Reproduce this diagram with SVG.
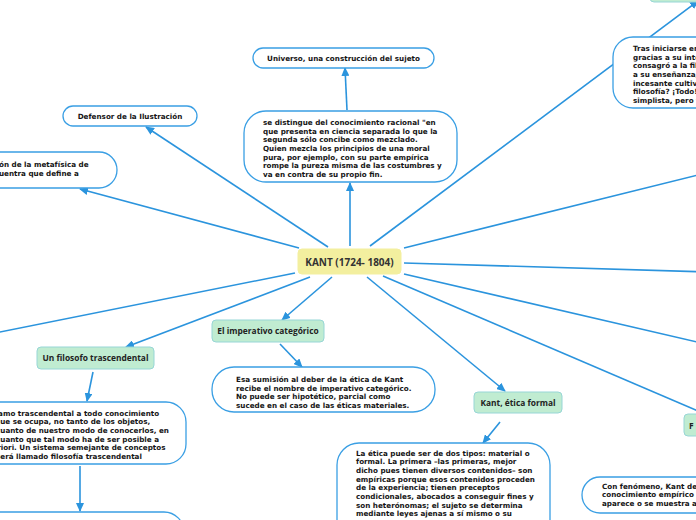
<svg xmlns="http://www.w3.org/2000/svg" width="696" height="520" viewBox="0 0 696 520">
<defs>
<marker id="ah" markerUnits="userSpaceOnUse" markerWidth="9" markerHeight="8" refX="8" refY="4" orient="auto">
<path d="M0,0 L9,4 L0,8 z" fill="#2b94dd"/>
</marker>
<style>
.c{fill:none;stroke:#2b94dd;stroke-width:1.6;marker-end:url(#ah)}
.cn{fill:none;stroke:#2b94dd;stroke-width:1.6}
.b{fill:#fff;stroke:#3a9fe4;stroke-width:1.3}
.g{fill:#c0ecd1;stroke:#97d6d6;stroke-width:1}
.y{fill:#f3ef9f;stroke:#f3ef9f;stroke-width:1}
.t{font-family:"DejaVu Sans",Verdana,sans-serif;font-weight:bold;font-size:7.2px;fill:#151515}
.tc{font-family:"DejaVu Sans",Verdana,sans-serif;font-weight:bold;font-size:7.2px;fill:#151515;text-anchor:middle}
.l{font-family:"Open Sans","Noto Sans",sans-serif;font-weight:bold;font-size:8.4px;fill:#222;text-anchor:middle}
.k{font-family:"Open Sans","Noto Sans",sans-serif;font-weight:bold;font-size:10px;fill:#333;text-anchor:middle}
</style>
</defs>
<rect width="696" height="520" fill="#fff"/>
<g id="connectors">
<line class="c" x1="350" y1="246" x2="350" y2="183"/>
<line class="c" x1="347" y1="110" x2="345" y2="68"/>
<line class="c" x1="328" y1="247" x2="146" y2="127"/>
<line class="c" x1="299" y1="248" x2="80" y2="189"/>
<line class="cn" x1="295" y1="273" x2="-10" y2="334"/>
<line class="c" x1="310" y1="277" x2="126" y2="347"/>
<line class="c" x1="332" y1="277" x2="282" y2="320"/>
<line class="c" x1="280" y1="344" x2="302" y2="367"/>
<line class="c" x1="367" y1="277" x2="505" y2="391"/>
<line class="c" x1="500" y1="422" x2="483" y2="443"/>
<line class="c" x1="383" y1="276" x2="710" y2="416"/>
<line class="cn" x1="404" y1="274" x2="710" y2="345"/>
<line class="cn" x1="404" y1="263" x2="710" y2="272"/>
<line class="cn" x1="404" y1="248" x2="710" y2="172"/>
<line class="c" x1="370" y1="246" x2="698" y2="1"/>
<line class="c" x1="93" y1="372" x2="87" y2="401"/>
<line class="c" x1="80" y1="466" x2="80" y2="511"/>
</g>
<g id="kant">
<rect class="y" x="298" y="249" width="103" height="25" rx="4"/>
<text class="k" x="349.5" y="265.5">KANT (1724- 1804)</text>
</g>
<g id="universo">
<rect class="b" x="253" y="48" width="181" height="20" rx="10"/>
<text class="tc" x="343.5" y="61">Universo, una construcción del sujeto</text>
</g>
<g id="distingue">
<rect class="b" x="244" y="111" width="213" height="71" rx="22"/>
<text class="t" x="263" y="125">se distingue del conocimiento racional "en</text>
<text class="t" x="263" y="133.7">que presenta en ciencia separada lo que la</text>
<text class="t" x="263" y="142.3">segunda sólo concibe como mezclado.</text>
<text class="t" x="263" y="151">Quien mezcla los principios de una moral</text>
<text class="t" x="263" y="159.7">pura, por ejemplo, con su parte empírica</text>
<text class="t" x="263" y="168.3">rompe la pureza misma de las costumbres y</text>
<text class="t" x="263" y="177">va en contra de su propio fin.</text>
</g>
<g id="defensor">
<rect class="b" x="63" y="106" width="134" height="20" rx="10"/>
<text class="tc" x="130" y="119">Defensor de la Ilustración</text>
</g>
<g id="metafisica">
<rect class="b" x="-80" y="152" width="197" height="36" rx="18"/>
<text class="t" x="-1" y="167.3">ón de la metafísica de</text>
<text class="t" x="-1" y="175.6">uentra que define  a</text>
</g>
<g id="top-right">
<rect class="g" x="650" y="-20" width="90" height="22" rx="4"/>
</g>
<g id="tras">
<rect class="b" x="613" y="37" width="200" height="71" rx="20"/>
<text class="t" x="633" y="51">Tras iniciarse en</text>
<text class="t" x="633" y="59.7">gracias a su inte</text>
<text class="t" x="633" y="68.3">consagró a la fil</text>
<text class="t" x="633" y="77">a su enseñanza,</text>
<text class="t" x="633" y="85.7">incesante cultivo</text>
<text class="t" x="633" y="94.3">filosofía? ¡Todo!,</text>
<text class="t" x="633" y="103">simplista, pero v</text>
</g>
<g id="imperativo">
<rect class="g" x="212" y="320" width="112" height="22" rx="4"/>
<text class="l" x="268" y="334.3">El imperativo categórico</text>
</g>
<g id="sumision">
<rect class="b" x="212" y="367" width="223" height="45" rx="22"/>
<text class="t" x="236" y="382">Esa sumisión al deber de la ética de Kant</text>
<text class="t" x="236" y="390.5">recibe el nombre de imperativo categórico.</text>
<text class="t" x="236" y="399">No puede ser hipotético, parcial como</text>
<text class="t" x="236" y="407.5">sucede en el caso de las éticas materiales.</text>
</g>
<g id="filosofo">
<rect class="g" x="37" y="347" width="117" height="22" rx="4"/>
<text class="l" x="95.5" y="361.3">Un filosofo trascendental</text>
</g>
<g id="llamo">
<rect class="b" x="-40" y="402" width="226" height="62" rx="20"/>
<text class="t" x="-9" y="415.6">Llamo trascendental a todo conocimiento</text>
<text class="t" x="-5" y="424.3">que se ocupa, no tanto de los objetos,</text>
<text class="t" x="-4" y="433">cuanto de nuestro modo de conocerlos, en</text>
<text class="t" x="-4" y="441.6">cuanto que tal modo ha de ser posible a</text>
<text class="t" x="-8" y="450.3">priori. Un sistema semejante de conceptos</text>
<text class="t" x="-4" y="459">será llamado filosofía trascendental</text>
</g>
<g id="bottom-left">
<rect class="b" x="-40" y="512" width="224" height="60" rx="20"/>
</g>
<g id="etica-formal">
<rect class="g" x="474" y="392" width="88" height="21" rx="4"/>
<text class="l" x="518" y="406">Kant, ética formal</text>
</g>
<g id="etica">
<rect class="b" x="337" y="443" width="213" height="100" rx="22"/>
<text class="t" x="356" y="455.6">La ética puede ser de dos tipos: material o</text>
<text class="t" x="356" y="464.3">formal. La primera –las primeras, mejor</text>
<text class="t" x="356" y="473">dicho pues tienen diversos contenidos– son</text>
<text class="t" x="356" y="481.6">empíricas porque esos contenidos proceden</text>
<text class="t" x="356" y="490.3">de la experiencia; tienen preceptos</text>
<text class="t" x="356" y="499">condicionales, abocados a conseguir fines y</text>
<text class="t" x="356" y="507.6">son heterónomas; el sujeto se determina</text>
<text class="t" x="356" y="516.3">mediante leyes ajenas a sí mismo o su</text>
</g>
<g id="f-node">
<rect class="g" x="684" y="414" width="60" height="22" rx="4"/>
<text class="l" x="689" y="428.5" style="text-anchor:start">F</text>
</g>
<g id="fenomeno">
<rect class="b" x="582" y="477" width="200" height="36" rx="18"/>
<text class="t" x="602" y="488.5">Con fenómeno, Kant des</text>
<text class="t" x="602" y="497">conocimiento empírico y</text>
<text class="t" x="602" y="505.5">aparece o se muestra al</text>
</g>
</svg>
